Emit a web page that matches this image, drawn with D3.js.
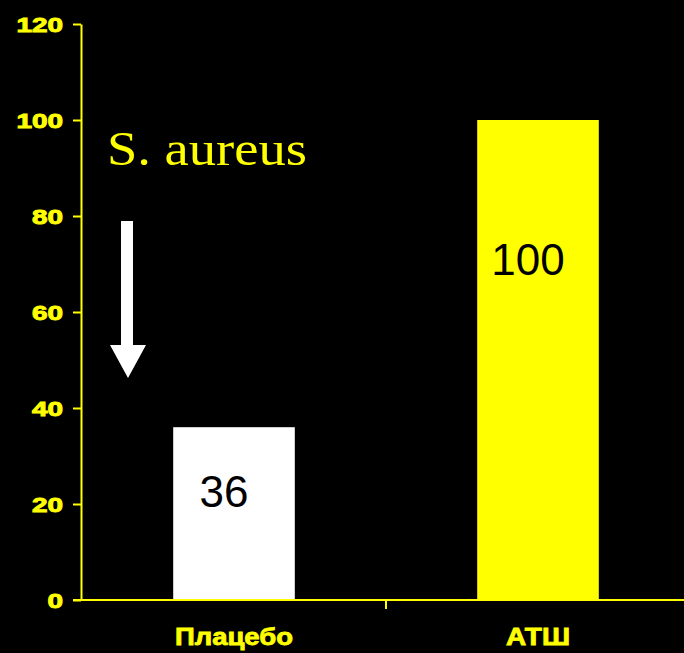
<!DOCTYPE html>
<html><head><meta charset="utf-8">
<script src="https://cdn.jsdelivr.net/npm/d3@7"></script>
<style>body{margin:0;background:#000}svg{display:block}</style>
</head><body>
<script>
const categories = ["Плацебо", "АТШ"];
const values = [36, 100];
const barColors = ["#ffffff", "#ffff00"];
const yTicks = [0, 20, 40, 60, 80, 100, 120];
const annotation = "S. aureus";

const W = 684, H = 653;
const svg = d3.select("body").append("svg").attr("width", W).attr("height", H)
  .style("background", "#000");

const y = d3.scaleLinear().domain([0, 120]).range([600, 24]);
const x = d3.scaleBand().domain(categories).range([82, 690]).paddingInner(0.6).paddingOuter(0.3);
const yellow = "#ffff00";

// bars
svg.selectAll("rect.bar").data(values).join("rect")
  .attr("x", (d, i) => x(categories[i]))
  .attr("width", x.bandwidth())
  .attr("y", d => y(d))
  .attr("height", d => y(0) - y(d))
  .attr("fill", (d, i) => barColors[i]);

// value labels
svg.selectAll("text.val").data(values).join("text")
  .attr("x", (d, i) => x(categories[i]) + x.bandwidth() / 2 - 10)
  .attr("y", d => d < 50 ? y(d) + 80 : y(d) + 155)
  .attr("text-anchor", "middle")
  .attr("font-family", "Liberation Sans, Arial, sans-serif")
  .attr("font-size", 44)
  .attr("fill", "#000")
  .text(d => d);

// y axis
const yAxis = d3.axisLeft(y).tickValues(yTicks).tickSize(8).tickSizeOuter(0);
const gy = svg.append("g").attr("transform", "translate(81,0)").call(yAxis);
gy.select(".domain").attr("stroke", yellow).attr("stroke-width", 2);
gy.selectAll(".tick line").attr("stroke", yellow).attr("stroke-width", 2);
gy.selectAll(".tick text")
  .attr("fill", yellow)
  .attr("stroke", yellow)
  .attr("stroke-width", 0.9)
  .attr("font-family", "Liberation Sans, Arial, sans-serif")
  .attr("font-weight", "bold")
  .attr("font-size", 20)
  .attr("x", -18)
  .attr("dy", "0.35em")
  .each(function(d) {
    const n = String(d).length;
    d3.select(this).attr("textLength", n * 15.5).attr("lengthAdjust", "spacingAndGlyphs");
  });

// x axis
const gx = svg.append("g").attr("transform", "translate(0,600)");
gx.append("line").attr("x1", 73).attr("x2", 684).attr("y1", 0).attr("y2", 0)
  .attr("stroke", yellow).attr("stroke-width", 2);
const mid = (x(categories[0]) + x.bandwidth() + x(categories[1])) / 2;
gx.append("line").attr("x1", mid).attr("x2", mid).attr("y1", 0).attr("y2", 9)
  .attr("stroke", yellow).attr("stroke-width", 2);
const labelWidths = [118, 64];
gx.selectAll("text.cat").data(categories).join("text")
  .attr("x", d => x(d) + x.bandwidth() / 2)
  .attr("y", 45)
  .attr("text-anchor", "middle")
  .attr("fill", yellow)
  .attr("stroke", yellow)
  .attr("stroke-width", 0.8)
  .attr("font-family", "Liberation Sans, Arial, sans-serif")
  .attr("font-weight", "bold")
  .attr("font-size", 24)
  .attr("textLength", (d, i) => labelWidths[i])
  .attr("lengthAdjust", "spacingAndGlyphs")
  .text(d => d);

// annotation
svg.append("text")
  .attr("x", 107).attr("y", 165)
  .attr("fill", yellow)
  .attr("font-family", "Liberation Serif, Times New Roman, serif")
  .attr("font-size", 48)
  .attr("textLength", 200).attr("lengthAdjust", "spacingAndGlyphs")
  .text(annotation);

// arrow
svg.append("path")
  .attr("d", "M121,221 L133,221 L133,345 L146,345 L128,378 L110,345 L121,345 Z")
  .attr("fill", "#fff");
</script>
</body></html>
